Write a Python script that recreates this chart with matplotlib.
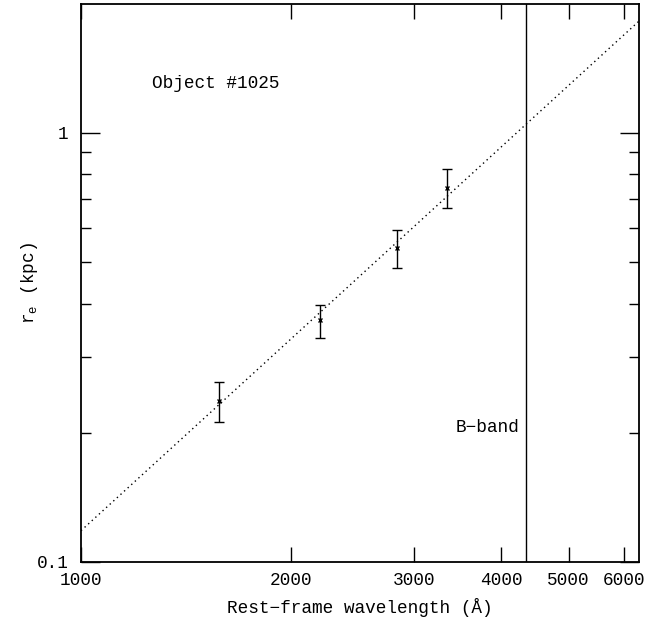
import matplotlib
matplotlib.use("Agg")
import matplotlib.pyplot as plt
from matplotlib.ticker import FixedLocator, NullFormatter, NullLocator

# Data
wavelength = [1577, 2201, 2841, 3351]
r_e = [0.2376, 0.3656, 0.538, 0.7447]
r_e_low = [0.2122, 0.332, 0.4833, 0.6687]
r_e_high = [0.263, 0.3976, 0.5943, 0.8217]
fit_x = [1000, 6310]
fit_y = [0.1183, 1.82]
b_band = 4347
x_ticks = [1000, 2000, 3000, 4000, 5000, 6000]
x_ticklabels = ["1000", "2000", "3000", "4000", "5000", "6000"]
y_major = [0.1, 1]
y_major_labels = ["0.1", "1"]
y_minor = [0.2, 0.3, 0.4, 0.5, 0.6, 0.7, 0.8, 0.9, 2]
obj_label = "Object #1025"
band_label = "B\u2212band"
xlabel = "Rest\u2212frame wavelength (\u00c5)"
ylabel = r"$\mathregular{r_e}$ (kpc)"

FONT = ["Liberation Mono", "DejaVu Sans Mono"]
plt.rcParams["font.family"] = FONT
plt.rcParams["mathtext.fontset"] = "custom"
plt.rcParams["mathtext.rm"] = "Liberation Mono"
plt.rcParams["mathtext.it"] = "Liberation Mono"

FS = 12.8

fig = plt.figure(figsize=(6.67, 6.17), dpi=100)
ax = fig.add_axes([81/667, 55/617, 558/667, 558/617])
ax.set_xscale("log")
ax.set_yscale("log")
ax.set_xlim(1000, 6310)
ax.set_ylim(0.1, 1.995)

yerr = [[v - lo for v, lo in zip(r_e, r_e_low)], [hi - v for v, hi in zip(r_e, r_e_high)]]
ax.errorbar(wavelength, r_e, yerr=yerr, fmt="none", ecolor="black", elinewidth=1.0,
            capsize=3.5, capthick=1.0)
ax.plot(wavelength, r_e, linestyle="none", marker="x", markersize=3.5, color="black",
        markeredgewidth=1.0)
ax.plot(fit_x, fit_y, linestyle=(0, (1, 2.5)), color="black", linewidth=1.0)
ax.axvline(b_band, color="black", linewidth=1.0)

ax.xaxis.set_major_locator(FixedLocator(x_ticks))
ax.set_xticklabels(x_ticklabels)
ax.xaxis.set_minor_locator(NullLocator())
ax.xaxis.set_minor_formatter(NullFormatter())
ax.yaxis.set_major_locator(FixedLocator(y_major))
ax.set_yticklabels(y_major_labels)
ax.yaxis.set_minor_locator(FixedLocator(y_minor))
ax.yaxis.set_minor_formatter(NullFormatter())

ax.tick_params(axis="x", which="major", direction="in", length=11, width=1.0,
               top=True, bottom=True, labelsize=FS, pad=7)
ax.tick_params(axis="y", which="major", direction="in", length=14, width=1.0,
               left=True, right=True, labelsize=FS, pad=9)
ax.tick_params(axis="y", which="minor", direction="in", length=7, width=1.0,
               left=True, right=True)
for sp in ax.spines.values():
    sp.set_linewidth(1.3)

ax.set_xlabel(xlabel, fontsize=FS)
ax.xaxis.set_label_coords(0.5, (562 - 598) / 558)
ax.set_ylabel(ylabel, fontsize=FS)
ax.yaxis.set_label_coords((40 - 81) / 558, 0.5)

ax.text((152 - 81) / 558, (562 - 84) / 558, obj_label, transform=ax.transAxes,
        fontsize=FS, ha="left", va="center")
ax.text((519 - 81) / 558, (562 - 427) / 558, band_label, transform=ax.transAxes,
        fontsize=FS, ha="right", va="center")

fig.savefig("out.png", dpi=100)
